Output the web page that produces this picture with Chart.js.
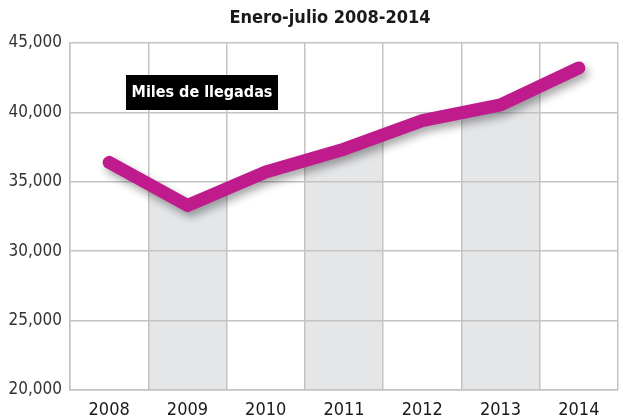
<!DOCTYPE html>
<html><head><meta charset="utf-8">
<script src="https://cdn.jsdelivr.net/npm/chart.js@4/dist/chart.umd.min.js"></script>
<style>html,body{margin:0;padding:0;background:#fff}#wrap{width:623px;height:419px}</style>
</head><body><div id="wrap"><canvas id="c" width="623" height="419"></canvas></div>
<script>
const years = ['2008','2009','2010','2011','2012','2013','2014'];
const llegadas = [36400, 33300, 35700, 37350, 39400, 40550, 43200];
const yTicks = [20000, 25000, 30000, 35000, 40000, 45000];
const titleText = 'Enero-julio 2008-2014';
const boxText = 'Miles de llegadas';

const FONT = '"Liberation Sans Narrow","DejaVu Sans Condensed",Roboto,sans-serif';

const bandFill = (ctx) => {
  const ch = ctx.chart, a = ch.chartArea;
  if (!a) return 'rgba(0,0,0,0)';
  const g = ch.ctx.createLinearGradient(a.left, 0, a.right, 0);
  const n = years.length;
  for (let i = 0; i < n; i++) {
    const c = i % 2 === 1 ? '#e5e6e8' : '#ffffff';
    g.addColorStop(i / n, c);
    g.addColorStop((i + 1) / n - 0.0001, c);
  }
  return g;
};

const shadowPlugin = {
  id: 'shadow',
  beforeDatasetDraw(chart) {
    const c = chart.ctx; c.save();
    c.shadowColor = 'rgba(0,0,0,0.35)'; c.shadowBlur = 8; c.shadowOffsetX = 3; c.shadowOffsetY = 5;
  },
  afterDatasetDraw(chart) { chart.ctx.restore(); }
};

const textPlugin = {
  id: 'texts',
  afterDraw(chart) {
    const c = chart.ctx; c.save();
    c.fillStyle = '#1a1a1a';
    c.font = 'bold 18px ' + FONT;
    c.textAlign = 'center'; c.textBaseline = 'middle';
    c.fillText(titleText, 330, 18);
    c.fillStyle = '#000';
    c.fillRect(126, 75, 152, 35);
    c.fillStyle = '#fff';
    c.font = 'bold 16px ' + FONT;
    c.fillText(boxText, 202, 93);
    c.restore();
  }
};

new Chart(document.getElementById('c'), {
  type: 'line',
  data: { labels: years, datasets: [{
    data: llegadas,
    borderColor: '#bf1b8d',
    borderWidth: 13,
    borderCapStyle: 'round',
    borderJoinStyle: 'round',
    pointRadius: 0,
    tension: 0,
    fill: 'origin',
    backgroundColor: bandFill
  }]},
  options: {
    responsive: false, animation: false, devicePixelRatio: 1,
    layout: { padding: { top: 43, right: 5, left: 0, bottom: 0 } },
    plugins: { legend: { display: false }, tooltip: { enabled: false }, title: { display: false },
      filler: { drawTime: 'beforeDraw' } },
    scales: {
      x: {
        offset: true,
        grid: { offset: true, color: '#c3c3c3', lineWidth: 1.5, drawTicks: false },
        border: { color: '#c3c3c3', width: 1.5 },
        ticks: { color: '#1a1a1a', font: { family: FONT, size: 18 }, padding: 10, maxRotation: 0 },
        afterFit(s) { s.height = 29; }
      },
      y: {
        min: 20000, max: 45000,
        afterBuildTicks(s) { s.ticks = yTicks.map(v => ({ value: v })); },
        grid: { color: '#c3c3c3', lineWidth: 1.5, drawTicks: false },
        border: { color: '#c3c3c3', width: 1.5 },
        ticks: { color: '#333', font: { family: FONT, size: 17 }, padding: 8,
          callback: v => v.toLocaleString('en-US') },
        afterFit(s) { s.width = 70; }
      }
    }
  },
  plugins: [shadowPlugin, textPlugin]
});
</script></body></html>
